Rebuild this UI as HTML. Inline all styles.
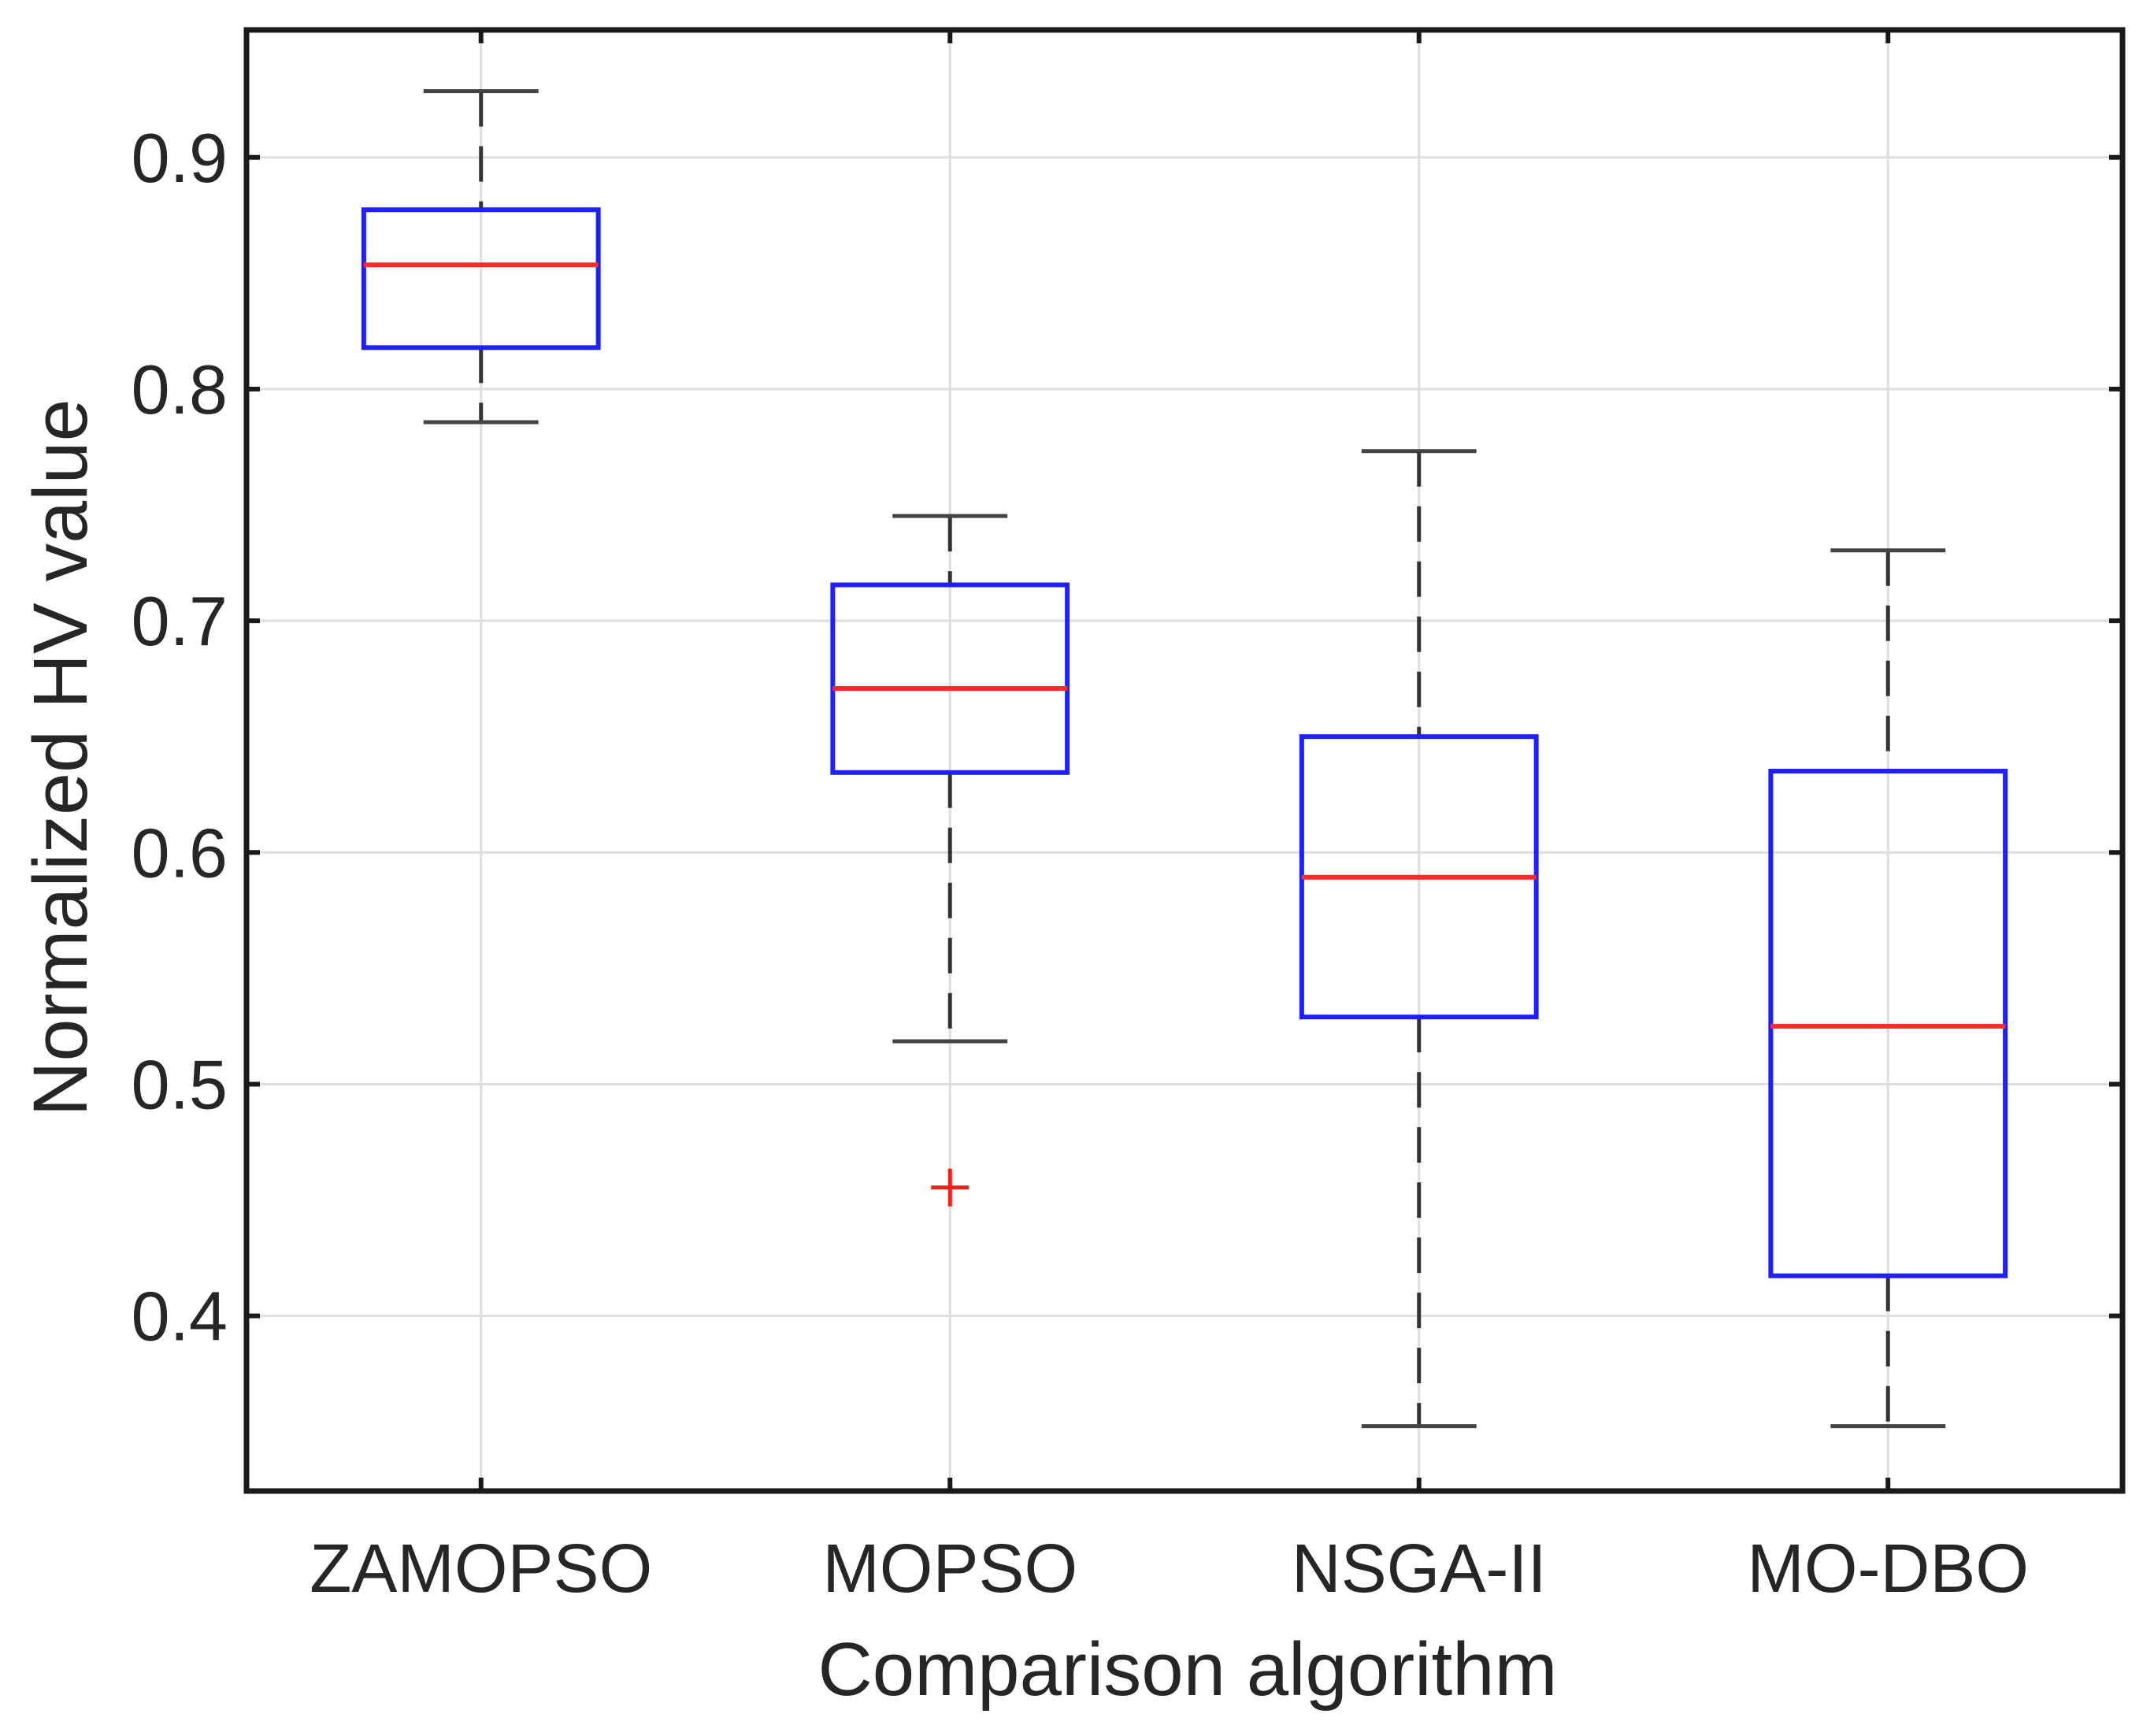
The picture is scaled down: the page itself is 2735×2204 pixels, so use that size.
<!DOCTYPE html>
<html><head><meta charset="utf-8"><style>
html,body{margin:0;padding:0;background:#fff;}
svg{display:block;}
text{font-family:"Liberation Sans",Arial,sans-serif;fill:#262626;}
</style></head><body>
<svg id="chart" width="2735" height="2204" viewBox="0 0 2735 2204" xmlns="http://www.w3.org/2000/svg">
<g id="grid"></g>
<g id="boxes"></g>
<g id="axes"></g>
<text x="1508" y="2152" font-size="96" text-anchor="middle">Comparison algorithm</text>
<text transform="translate(110,962) rotate(-90)" font-size="97" text-anchor="middle">Normalized HV value</text>
</svg>
<script>
const categories = ["ZAMOPSO","MOPSO","NSGA-II","MO-DBO"];
const whiskerHigh = [0.9286,0.7452,0.7732,0.7304];
const q3Values = [0.8774,0.7155,0.6500,0.6351];
const medians = [0.8536,0.6708,0.5893,0.5250];
const q1Values = [0.8179,0.6345,0.5290,0.4173];
const whiskerLow = [0.7857,0.5185,0.3524,0.3524];
const outlierCategory = [1];
const outlierValues = [0.4554];
const yTicks = [0.4,0.5,0.6,0.7,0.8,0.9];
const yTickLabels = ["0.4","0.5","0.6","0.7","0.8","0.9"];

const L=313,R=2695,T=38,B=1893, yMin=0.3244, yMax=0.955;
const NS="http://www.w3.org/2000/svg";
function xs(i){return L+(i+0.5)*(R-L)/categories.length;}
function ys(v){return B-(v-yMin)/(yMax-yMin)*(B-T);}
const unit=(R-L)/categories.length;
function mk(parent,tag,attrs){const e=document.createElementNS(NS,tag);for(const k in attrs)e.setAttribute(k,attrs[k]);parent.appendChild(e);return e;}
const grid=document.getElementById('grid'),boxes=document.getElementById('boxes'),axes=document.getElementById('axes');

yTicks.forEach((v,i)=>{
  const g=mk(grid,'line',{x1:L,x2:R,y1:ys(v),y2:ys(v),stroke:'#dedede','stroke-width':3});
  
  
  const t=mk(axes,'text',{x:289,y:ys(v)+31,'font-size':88,'text-anchor':'end'});
  t.textContent=yTickLabels[i];
  
  
  for(const [a,b] of [[L,L+17],[R-17,R]]){
    const tk=mk(axes,'line',{x1:a,x2:b,y1:ys(v),y2:ys(v),stroke:'#1a1a1a','stroke-width':6});
    
    
  }
});
categories.forEach((c,i)=>{
  const x=xs(i);
  const g=mk(grid,'line',{x1:x,x2:x,y1:T,y2:B,stroke:'#dedede','stroke-width':3});
  
  
  for(const [a,b] of [[T,T+17],[B-17,B]]){
    const tk=mk(axes,'line',{x1:x,x2:x,y1:a,y2:b,stroke:'#1a1a1a','stroke-width':6});
    
    
  }
  const t=mk(axes,'text',{x:x,y:2021,'font-size':87,'text-anchor':'middle'});
  t.textContent=c;
  
  

  const bw=0.25*unit, cw=0.1225*unit;
  const w1=mk(boxes,'line',{x1:x,x2:x,y1:ys(whiskerHigh[i]),y2:ys(q3Values[i]),stroke:'#333','stroke-width':5,'stroke-dasharray':'45 25'});
  
  
  const w2=mk(boxes,'line',{x1:x,x2:x,y1:ys(q1Values[i]),y2:ys(whiskerLow[i]),stroke:'#333','stroke-width':5,'stroke-dasharray':'45 25'});
  
  
  const c1=mk(boxes,'line',{x1:x-cw,x2:x+cw,y1:ys(whiskerHigh[i]),y2:ys(whiskerHigh[i]),stroke:'#444','stroke-width':5});
  
  
  const c2=mk(boxes,'line',{x1:x-cw,x2:x+cw,y1:ys(whiskerLow[i]),y2:ys(whiskerLow[i]),stroke:'#444','stroke-width':5});
  
  
  const bx=mk(boxes,'rect',{x:x-bw,y:ys(q3Values[i]),width:2*bw,height:ys(q1Values[i])-ys(q3Values[i]),fill:'none',stroke:'#1f1fff','stroke-width':6});
  
  
  const md=mk(boxes,'line',{x1:x-bw,x2:x+bw,y1:ys(medians[i]),y2:ys(medians[i]),stroke:'#ff2a2a','stroke-width':6});
  
  
});
outlierValues.forEach((v,k)=>{
  const x=xs(outlierCategory[k]), y=ys(v);
  const p=mk(boxes,'path',{d:`M${x-24} ${y}H${x+24}M${x} ${y-24}V${y+24}`,stroke:'#ff1a1a','stroke-width':5,fill:'none'});
  
  
});
const fr=mk(axes,'rect',{x:L,y:T,width:R-L,height:B-T,fill:'none',stroke:'#1a1a1a','stroke-width':7});


</script>
</body></html>
